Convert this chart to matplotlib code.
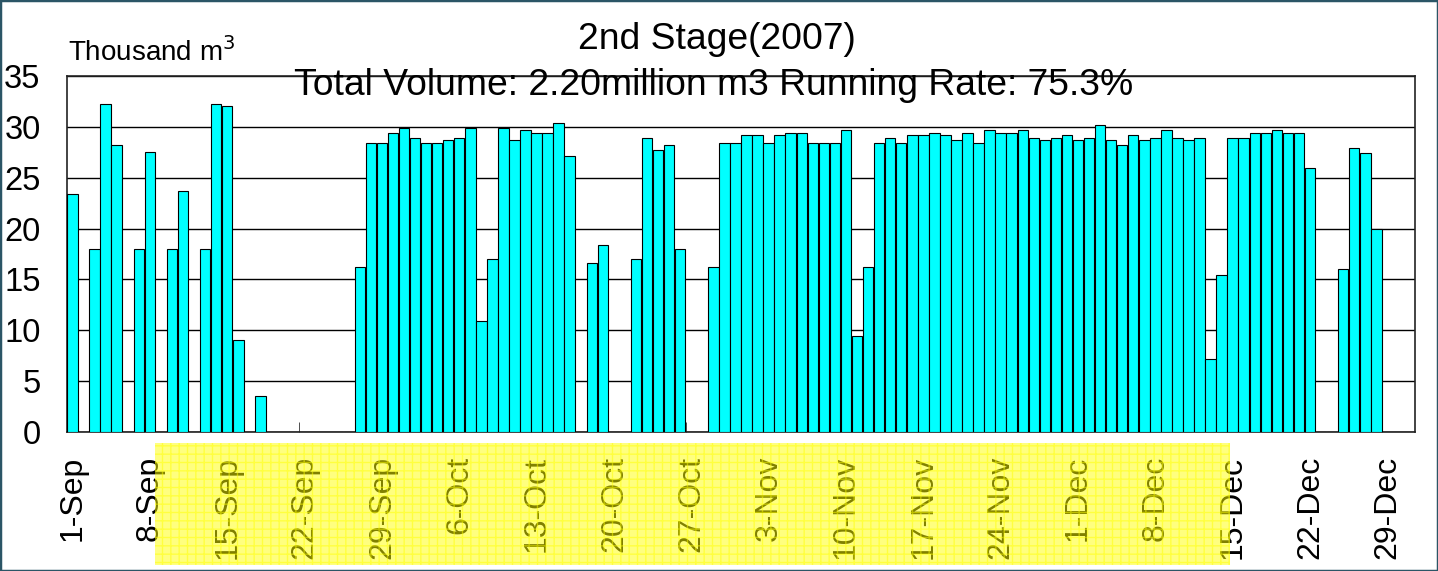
import numpy as np
import matplotlib
matplotlib.use("Agg")
import matplotlib.pyplot as plt
from matplotlib.patches import Rectangle

plt.rcParams['font.family'] = ['Liberation Sans', 'DejaVu Sans']

# ============ Dados (mil m3 por dia) ============
sep_vals = [23.4, 0, 18.0, 32.2, 28.2, 0, 18.0, 27.5, 0, 18.0,
            23.7, 0, 18.0, 32.2, 32.0, 9.0, 0, 3.5, 0, 0,
            0, 0, 0, 0, 0, 0, 16.2, 28.4, 28.4, 29.4]
oct_vals = [29.9, 28.9, 28.4, 28.4, 28.7, 28.9, 29.9, 10.9, 17.0, 29.9,
            28.7, 29.7, 29.4, 29.4, 30.4, 27.1, 0, 16.6, 18.4, 0,
            0, 17.0, 28.9, 27.7, 28.2, 18.0, 0, 0, 16.2, 28.4, 28.4]
nov_vals = [29.2, 29.2, 28.4, 29.2, 29.4, 29.4, 28.4, 28.4, 28.4, 29.7,
            9.45, 16.2, 28.4, 28.9, 28.4, 29.2, 29.2, 29.4, 29.2, 28.7,
            29.4, 28.4, 29.7, 29.4, 29.4, 29.7, 28.9, 28.7, 28.9, 29.2]
dec_vals = [28.7, 28.9, 30.2, 28.7, 28.2, 29.2, 28.7, 28.9, 29.7, 28.9,
            28.7, 28.9, 7.2, 15.45, 28.9, 28.9, 29.4, 29.4, 29.7, 29.4,
            29.4, 26.0, 0, 0, 16.0, 27.9, 27.4, 20.0, 0, 0, 0]

tick_labels = ['1-Sep', '8-Sep', '15-Sep', '22-Sep', '29-Sep', '6-Oct', '13-Oct',
               '20-Oct', '27-Oct', '3-Nov', '10-Nov', '17-Nov', '24-Nov', '1-Dec',
               '8-Dec', '15-Dec', '22-Dec', '29-Dec']

titulo = "2nd Stage(2007)"
subtitulo = "Total Volume: 2.20million m3 Running Rate: 75.3%"
unidade = "Thousand m$^3$"

valores = sep_vals + oct_vals + nov_vals + dec_vals
dias = np.arange(len(valores))

# ============ Figura ============
fig = plt.figure(figsize=(14.38, 5.71), dpi=100)
ax = fig.add_axes([0.0466, 0.2434, 0.9374, 0.6236])

ax.bar(dias, valores, width=0.95, color='#00ffff', edgecolor='black',
       linewidth=0.8, zorder=3)

ax.set_xlim(-0.5, len(valores) - 0.5)
ax.set_ylim(0, 35)
ax.set_yticks(np.arange(0, 36, 5))
ax.yaxis.grid(True, color='black', linewidth=1.0, zorder=0)
ax.set_axisbelow(True)
ax.tick_params(axis='y', labelsize=23.5, length=0, pad=19)

ax.set_xticks(dias[::7])
ax.set_xticklabels(tick_labels, rotation=90, fontsize=23)
ax.set_xticks(dias[::7] - 0.5, minor=True)
ax.tick_params(axis='x', which='major', length=0, pad=17)
ax.tick_params(axis='x', which='minor', direction='in', length=7, color='#333333')

for s in ax.spines.values():
    s.set_color('#222222')
    s.set_linewidth(1.2)

fig.text(0.4986, 0.93, titulo, ha='center', va='center', fontsize=26.8)
fig.text(0.4966, 0.851, subtitulo, ha='center', va='center', fontsize=26.8, zorder=5)
fig.text(0.047, 0.908, unidade, ha='left', va='center', fontsize=20)

# faixa amarela quadriculada por cima dos rótulos
fig.patches.append(Rectangle((0.1078, 0.0105), 0.7476, 0.2137, transform=fig.transFigure,
                             facecolor='#ffff00', edgecolor='#ffff00', alpha=0.5,
                             hatch='++', linewidth=0, zorder=10))

# moldura da figura
fig.patches.append(Rectangle((0, 0), 1, 1, transform=fig.transFigure, fill=False,
                             edgecolor='#2b5566', linewidth=2.5, zorder=11))

fig.savefig("out.png", dpi=100)
